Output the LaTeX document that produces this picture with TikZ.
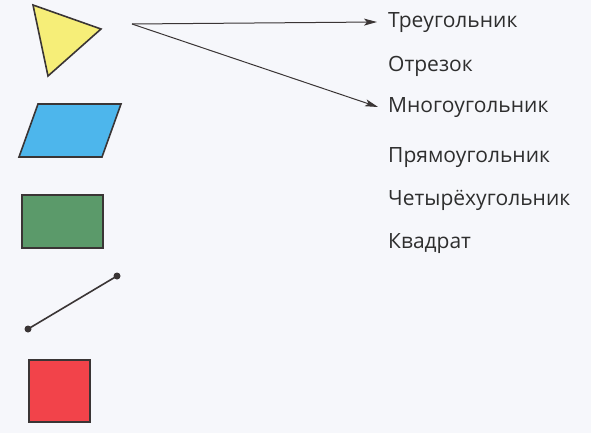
\documentclass[tikz,border=0pt]{standalone}
\usepackage{fontspec}
\setmainfont{Open Sans}
\usetikzlibrary{arrows.meta}
\definecolor{bg}{HTML}{F6F7FB}
\definecolor{ink}{HTML}{3A3535}
\definecolor{tri}{HTML}{F6EE78}
\definecolor{par}{HTML}{4DB6EC}
\definecolor{grn}{HTML}{5B9A6A}
\definecolor{rd}{HTML}{F2434A}
\definecolor{txt}{HTML}{2E2E2E}
\tikzset{
  figure/.style={draw=ink, line width=1.6pt, line join=miter},
  word/.style={anchor=base west, inner sep=0pt, text=txt, font=\fontsize{21}{24}\selectfont},
  link/.style={draw=ink, line width=1pt, -{Stealth[length=13pt,width=7pt,inset=3pt]}},
  dot/.style={circle, fill=ink, inner sep=0pt, minimum size=7pt}
}
\begin{document}
\begin{tikzpicture}[x=1pt,y=-1pt]
\fill[bg] (0,0) rectangle (591,433);
\useasboundingbox (0,0) rectangle (591,433);
% shapes
\draw[figure, fill=tri] (33,5) -- (101,29) -- (48,76) -- cycle;
\draw[figure, fill=par] (38,104) -- (121,104) -- (102,157) -- (19,157) -- cycle;
\draw[figure, fill=grn] (22,195) rectangle (103,248);
\node[dot] (p1) at (117,276) {};
\node[dot] (p2) at (28,329) {};
\draw[ink, line width=1.6pt] (p1.center) -- (p2.center);
\draw[figure, fill=rd] (29,360) rectangle (90,422);
% words
\node[word] (w1) at (388,28) {Треугольник};
\node[word] (w2) at (388,72) {Отрезок};
\node[word] (w3) at (388,113) {Многоугольник};
\node[word] (w4) at (388,162) {Прямоугольник};
\node[word] (w5) at (388,205) {Четырёхугольник};
\node[word] (w6) at (388,248) {Квадрат};
% arrows
\coordinate (s) at (132,24);
\coordinate (t1) at (377,22);
\coordinate (t3) at (378,107);
\draw[link] (s) -- (t1);
\draw[link] (s) -- (t3);
\end{tikzpicture}
\end{document}
